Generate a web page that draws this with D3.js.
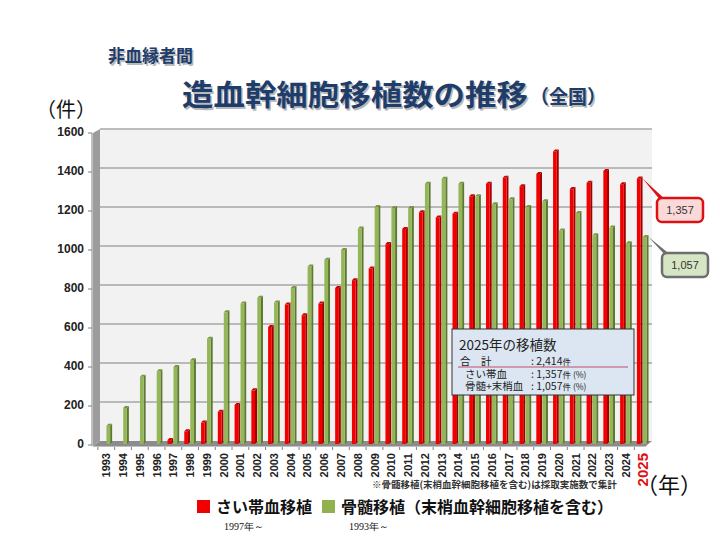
<!DOCTYPE html>
<html>
<head>
<meta charset="utf-8">
<script src="https://cdn.jsdelivr.net/npm/d3@7"></script>
<style>
  body { margin: 0; background: #fff; }
  svg { display: block; }
  .jp { font-family: "Noto Sans CJK JP", sans-serif; }
</style>
</head>
<body>
<svg id="chart" width="720" height="540"></svg>
<script>
// 年
const years = d3.range(1993, 2026);
// さい帯血移植 (1997年～)
const cordBlood = [0, 0, 0, 0, 15, 60, 105, 160, 195, 270, 595, 710, 655, 715, 795, 835,
  895, 1020, 1098, 1183, 1157, 1176, 1265, 1330, 1360, 1317, 1380, 1495, 1302, 1335, 1395, 1327, 1357];
// 骨髄移植（末梢血幹細胞移植を含む）
const marrow = [88, 180, 340, 368, 390, 425, 535, 670, 715, 745, 720, 795, 905, 940, 990, 1100,
  1210, 1205, 1205, 1330, 1355, 1330, 1265, 1225, 1250, 1210, 1240, 1090, 1180, 1065, 1105, 1025, 1057];
const yTicks = [0, 200, 400, 600, 800, 1000, 1200, 1400, 1600];
const series = ["cord", "marrow"];

const svg = d3.select("#chart");
const x = d3.scaleBand().domain(years).range([98, 651]).paddingInner(0.27).paddingOuter(0.13);
const sub = d3.scaleBand().domain(series).range([0, x.bandwidth()]).padding(0.05);
const y = d3.scaleLinear().domain([0, 1600]).range([441, 129]);

const COLORS = {
  cord: { front: "#f20000", side: "#9e0000", top: "#c40000" },
  marrow: { front: "#93b657", side: "#5c7832", top: "#76963e" }
};

// 背面の壁
svg.append("rect")
  .attr("x", 100).attr("y", y(1600))
  .attr("width", 552).attr("height", y(0) - y(1600))
  .attr("fill", "#f2f2f2");

// 左の側壁
svg.append("path")
  .attr("d", `M93,${y(1600) + 4} L100,${y(1600)} L100,${y(0)} L93,${y(0) + 5} Z`)
  .attr("fill", "#9c9c9c");

// グリッド線
svg.append("g").selectAll("line")
  .data(yTicks.slice(1))
  .join("line")
  .attr("x1", 100).attr("x2", 652)
  .attr("y1", d => y(d)).attr("y2", d => y(d))
  .attr("stroke", "#a6a6a6").attr("stroke-width", 1.3);
svg.append("line")
  .attr("x1", 100).attr("x2", 652).attr("y1", y(1600)).attr("y2", y(1600))
  .attr("stroke", "#bfbfbf");

// 床
svg.append("path")
  .attr("d", `M93,${y(0) + 5} L100,${y(0)} L652,${y(0)} L646,${y(0) + 5} Z`)
  .attr("fill", "#8c8c8c");
svg.append("line")
  .attr("x1", 93).attr("x2", 646).attr("y1", y(0) + 5.5).attr("y2", y(0) + 5.5)
  .attr("stroke", "#bfbfbf");

// Y軸
const yAxis = svg.append("g").attr("transform", "translate(92,0)");
yAxis.append("line").attr("x1", 0).attr("x2", 0).attr("y1", y(1600) + 4).attr("y2", y(0) + 5)
  .attr("stroke", "#808080");
yAxis.selectAll("line.tick")
  .data(yTicks)
  .join("line")
  .attr("class", "tick")
  .attr("x1", -4).attr("x2", 0)
  .attr("y1", d => y(d) + 4).attr("y2", d => y(d) + 4)
  .attr("stroke", "#808080");
yAxis.selectAll("text")
  .data(yTicks)
  .join("text")
  .attr("x", -8).attr("y", d => y(d) + 4)
  .attr("text-anchor", "end").attr("dominant-baseline", "middle")
  .attr("font-family", "Liberation Sans, Arial, sans-serif")
  .attr("font-weight", "bold").attr("font-size", 12)
  .attr("fill", "#222")
  .text(d => d);

// X軸の目盛り
svg.append("g").selectAll("line")
  .data(years)
  .join("line")
  .attr("x1", d => x(d) - x.step() * x.paddingInner() / 2)
  .attr("x2", d => x(d) - x.step() * x.paddingInner() / 2)
  .attr("y1", y(0) + 6).attr("y2", y(0) + 9)
  .attr("stroke", "#808080");

// 3D 棒 (前面は奥行き分だけ下にずらす)
const rows = years.map((yr, i) => ({ year: yr, cord: cordBlood[i], marrow: marrow[i] }));
const DX = 2, DY = 2;
series.forEach(s => {
  const g = svg.append("g");
  const data = rows.filter(d => d[s] > 0);
  const bx = d => x(d.year) + sub(s);
  const bw = sub.bandwidth() - DX;
  const top = d => y(d[s]) + DY;
  const bottom = y(0) + 3;
  g.selectAll("path.side")
    .data(data)
    .join("path")
    .attr("d", d => {
      const x0 = bx(d) + bw, yt = top(d);
      return `M${x0},${yt} L${x0 + DX},${yt - DY} L${x0 + DX},${bottom - DY} L${x0},${bottom} Z`;
    })
    .attr("fill", COLORS[s].side);
  g.selectAll("path.top")
    .data(data)
    .join("path")
    .attr("d", d => {
      const x0 = bx(d), yt = top(d);
      return `M${x0},${yt} L${x0 + DX},${yt - DY} L${x0 + bw + DX},${yt - DY} L${x0 + bw},${yt} Z`;
    })
    .attr("fill", COLORS[s].top);
  g.selectAll("rect")
    .data(data)
    .join("rect")
    .attr("x", bx)
    .attr("y", top)
    .attr("width", bw)
    .attr("height", d => bottom - top(d))
    .attr("fill", COLORS[s].front);
});

// 年ラベル
svg.append("g").selectAll("text")
  .data(years)
  .join("text")
  .attr("transform", d => `translate(${x(d) + x.bandwidth() / 2 + (d === 2025 ? 5 : 4)},${y(0) + 12}) rotate(-90)`)
  .attr("text-anchor", "end")
  .attr("font-family", "Liberation Sans, Arial, sans-serif")
  .attr("font-weight", "bold")
  .attr("font-size", d => d === 2025 ? 15 : 11)
  .attr("fill", d => d === 2025 ? "#e01010" : "#222")
  .text(d => d);

// 吹き出し
const last = rows[rows.length - 1];
const callouts = [
  { s: "cord", label: "1,357", bx: 657, by: 198, fill: "#fcd9d9", stroke: "#dd1111" },
  { s: "marrow", label: "1,057", bx: 662, by: 253, fill: "#d6e6c4", stroke: "#6e6e6e" }
];
callouts.forEach(c => {
  const px = x(last.year) + sub(c.s) + sub.bandwidth();
  const py = y(last[c.s]) + 2;
  svg.append("path")
    .attr("d", `M${px},${py} L${c.bx + 4},${c.by + 3} L${c.bx + 10},${c.by + 3} Z`)
    .attr("fill", c.stroke);
  svg.append("rect")
    .attr("x", c.bx).attr("y", c.by).attr("width", 46).attr("height", 24).attr("rx", 5)
    .attr("fill", c.fill).attr("stroke", c.stroke).attr("stroke-width", 2.5);
  svg.append("text")
    .attr("x", c.bx + 23).attr("y", c.by + 13)
    .attr("text-anchor", "middle").attr("dominant-baseline", "middle")
    .attr("font-family", "Liberation Sans, Arial, sans-serif").attr("font-size", 11)
    .attr("fill", "#333").text(c.label);
});

// 2025年の移植数 ボックス
const info = svg.append("g").attr("class", "jp");
info.append("rect")
  .attr("x", 452).attr("y", 329).attr("width", 182).attr("height", 66)
  .attr("fill", "#dce6f2").attr("stroke", "#333").attr("stroke-width", 1);
info.append("text").attr("x", 459).attr("y", 350).attr("font-size", 13.5).attr("fill", "#222").text("2025年の移植数");
info.append("line").attr("x1", 458).attr("x2", 628).attr("y1", 367).attr("y2", 367)
  .attr("stroke", "#c0506a").attr("stroke-width", 1);
const infoRows = [
  { y: 365, a: "合　計", ax: 460, b: ": 2,414", c: "件" },
  { y: 377.5, a: "さい帯血", ax: 465, b: ": 1,357", c: "件 (%)" },
  { y: 390, a: "骨髄+末梢血", ax: 465, b: ": 1,057", c: "件 (%)" }
];
infoRows.forEach(r => {
  info.append("text").attr("x", r.ax).attr("y", r.y).attr("font-size", 10.5).attr("fill", "#222").text(r.a);
  const t = info.append("text").attr("x", 531).attr("y", r.y).attr("font-size", 10.5).attr("fill", "#222");
  t.append("tspan").text(r.b);
  t.append("tspan").attr("font-size", 8.5).text(r.c);
});

// タイトル
const title = svg.append("g").attr("class", "jp").attr("font-weight", "bold");
[[1.5, "#b9b9b9"], [0, "#1f3d6b"]].forEach(([o, col]) => {
  title.append("text").attr("x", 108 + o).attr("y", 62 + o).attr("font-size", 17).attr("fill", col).text("非血縁者間");
  title.append("text").attr("x", 182 + o).attr("y", 106 + o).attr("font-size", 29)
    .attr("textLength", 346).attr("lengthAdjust", "spacingAndGlyphs")
    .attr("fill", col).text("造血幹細胞移植数の推移");
  title.append("text").attr("x", 530 + o).attr("y", 104 + o).attr("font-size", 19)
    .attr("fill", col).text("（全国）");
});

// 単位
svg.append("text").attr("class", "jp").attr("x", 36).attr("y", 117)
  .attr("font-size", 20).attr("fill", "#111").text("（件）");
svg.append("text").attr("class", "jp").attr("x", 636).attr("y", 493)
  .attr("font-size", 22).attr("fill", "#111").text("（年）");

// 注記
svg.append("text").attr("class", "jp").attr("x", 372).attr("y", 488)
  .attr("font-size", 9.5).attr("font-weight", "bold").attr("fill", "#333")
  .text("※骨髄移植(末梢血幹細胞移植を含む)は採取実施数で集計");

// 凡例
const legend = [
  { x: 197, color: "#f00000", label: "さい帯血移植", sub: "1997年～" },
  { x: 322, color: "#8fb24f", label: "骨髄移植（末梢血幹細胞移植を含む）", sub: "1993年～" }
];
const lg = svg.append("g").attr("class", "jp");
legend.forEach(l => {
  lg.append("rect").attr("x", l.x).attr("y", 500).attr("width", 13).attr("height", 13).attr("fill", l.color);
  lg.append("text").attr("x", l.x + 19).attr("y", 513).attr("font-size", 16)
    .attr("font-weight", "bold").attr("fill", "#111").text(l.label);
  lg.append("text").attr("x", l.x + 27).attr("y", 530).attr("font-size", 10)
    .attr("font-family", "Liberation Serif, serif").attr("fill", "#111").text(l.sub);
});
</script>
</body>
</html>
